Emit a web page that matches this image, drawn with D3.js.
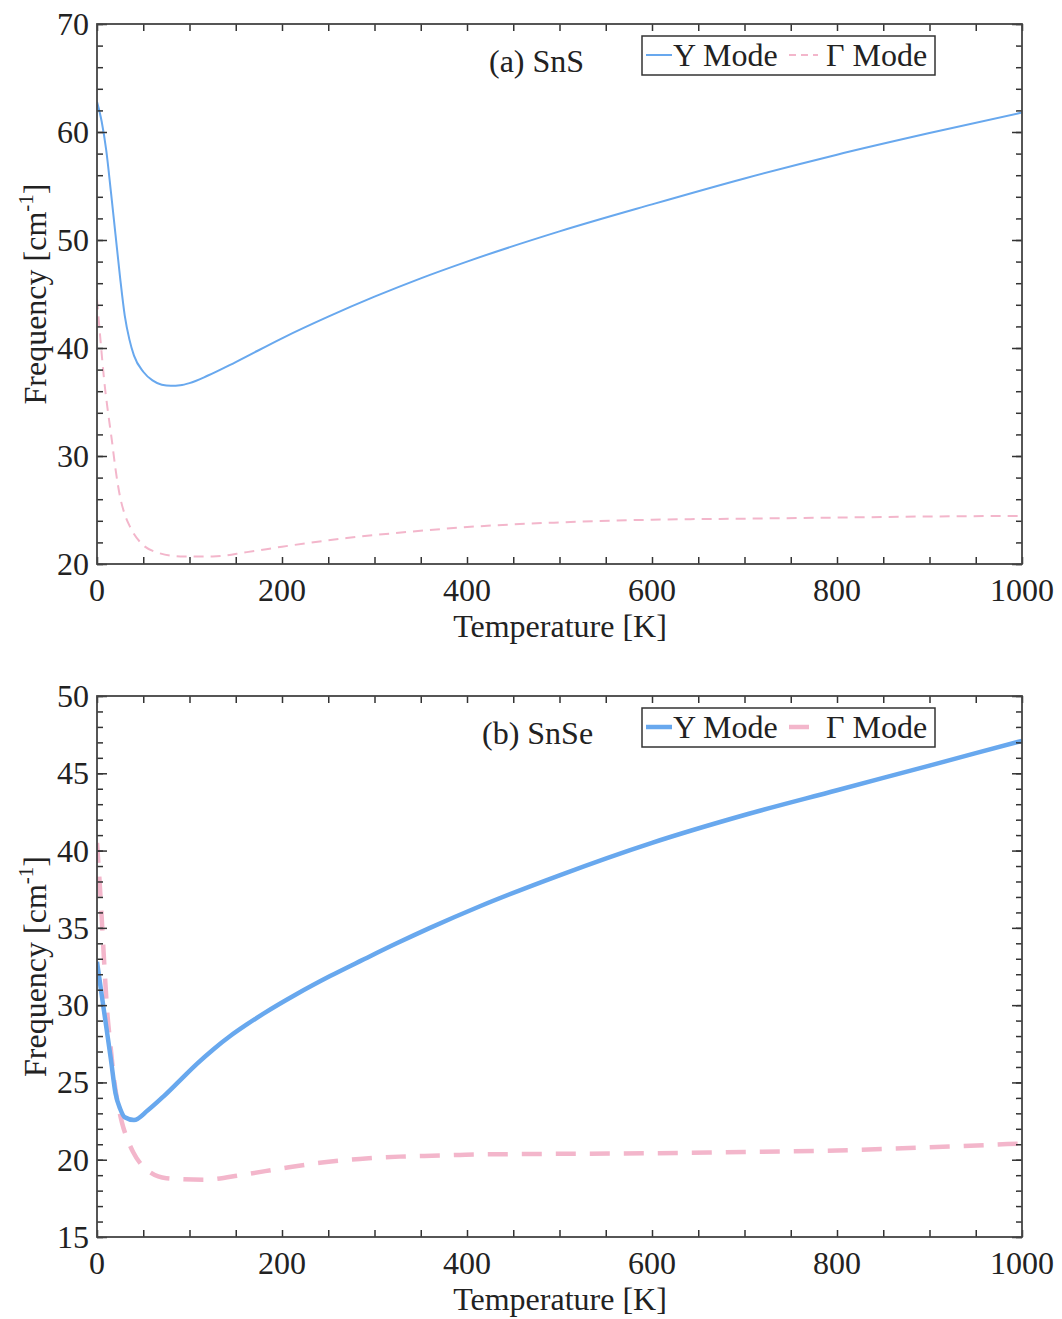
<!DOCTYPE html>
<html>
<head>
<meta charset="utf-8">
<script src="https://cdn.jsdelivr.net/npm/d3@7"></script>
<style>
  body { margin: 0; background: #fff; }
  text { font-family: "Liberation Serif", "Times New Roman", serif; fill: #222; }
</style>
</head>
<body>
<div id="chart"></div>
<script>
// panel (a) SnS
const tempA_Y = [0, 5, 10, 15, 20, 25, 30, 35, 40, 50, 60, 70, 80, 90, 100, 120, 150, 200, 250, 300, 350, 400, 500, 600, 700, 800, 900, 1000];
const freqA_Y = [62.8, 61, 58.3, 54.5, 50.5, 46.5, 43.0, 40.8, 39.3, 37.8, 37.0, 36.6, 36.5, 36.55, 36.75, 37.45, 38.7, 40.9, 42.9, 44.75, 46.45, 48.0, 50.8, 53.3, 55.7, 57.9, 59.9, 61.8];
const tempA_G = [0, 4, 8, 12, 16, 20, 25, 30, 36, 48, 64, 90, 125, 162, 200, 270, 340, 414, 500, 600, 700, 800, 900, 1000];
const freqA_G = [44.5, 40.5, 36.8, 34, 31.5, 28.8, 26.2, 24.6, 23.4, 21.9, 21.1, 20.7, 20.7, 21.1, 21.6, 22.4, 23.0, 23.5, 23.85, 24.1, 24.2, 24.3, 24.4, 24.45];

// panel (b) SnSe
const tempB_Y = [0, 5, 10, 15, 20, 25, 30, 40, 55, 72, 90, 108, 126, 144, 162, 180, 216, 252, 288, 324, 360, 414, 500, 600, 700, 800, 900, 1000];
const freqB_Y = [32.8, 30.7, 28.6, 26.5, 24.3, 23.3, 22.75, 22.57, 23.2, 24.1, 25.15, 26.2, 27.15, 28.0, 28.75, 29.45, 30.72, 31.88, 32.95, 34.0, 35.0, 36.4, 38.4, 40.5, 42.3, 43.9, 45.5, 47.1];
const tempB_G = [0, 3, 5.4, 8, 11, 14.4, 18, 22, 27, 33, 39, 50, 75, 115, 158, 201, 241, 284, 327, 371, 410, 500, 600, 700, 800, 900, 1000];
const freqB_G = [40.5, 37.8, 35.3, 32.5, 29.6, 27.5, 25.4, 23.8, 22.4, 21.3, 20.5, 19.55, 18.8, 18.7, 19.03, 19.45, 19.8, 20.05, 20.2, 20.27, 20.34, 20.38, 20.42, 20.5, 20.6, 20.8, 21.05];

const xTicks = [0, 200, 400, 600, 800, 1000];
const yTicksA = [20, 30, 40, 50, 60, 70];
const yTicksB = [15, 20, 25, 30, 35, 40, 45, 50];

const W = 1062, H = 1319;
const blue = "#68a8ee", pink = "#f3b6cb";

let svg = d3.select("#chart").append("svg")
    .attr("width", W).attr("height", H);
svg.append("rect").attr("width", W).attr("height", H).attr("fill", "#fff");

function panel(opts) {
    let x = d3.scaleLinear().domain([0, 1000]).range([97, 1022]);
    let y = d3.scaleLinear().domain(opts.yDomain).range([opts.bottom, opts.top]);
    let g = svg.append("g");

    let line = d3.line()
        .x(d => x(d[0])).y(d => y(d[1]))
        .curve(d3.curveMonotoneX);

    // clip so lines stay in the box
    let clipId = "clip" + opts.tag;
    svg.append("clipPath").attr("id", clipId)
        .append("rect").attr("x", 97).attr("y", opts.top)
        .attr("width", 925).attr("height", opts.bottom - opts.top);

    g.append("path")
        .datum(d3.zip(opts.gT, opts.gF))
        .attr("clip-path", `url(#${clipId})`)
        .attr("fill", "none").attr("stroke", pink)
        .attr("stroke-width", opts.lw)
        .attr("stroke-dasharray", opts.dash)
        .attr("d", line);

    g.append("path")
        .datum(d3.zip(opts.yT, opts.yF))
        .attr("clip-path", `url(#${clipId})`)
        .attr("fill", "none").attr("stroke", blue)
        .attr("stroke-width", opts.lw)
        .attr("d", line);

    // axes: ticks inside on all four sides
    let minorX = d3.range(0, 1001, 50);
    let minorY = d3.range(opts.yDomain[0], opts.yDomain[1] + 0.001, opts.yMinor);

    g.append("g").attr("transform", `translate(0,${opts.bottom})`)
        .call(d3.axisBottom(x).tickValues(minorX).tickSize(-7).tickFormat(""));
    g.append("g").attr("transform", `translate(0,${opts.top})`)
        .call(d3.axisTop(x).tickValues(minorX).tickSize(-7).tickFormat(""));
    g.append("g").attr("transform", `translate(97,0)`)
        .call(d3.axisLeft(y).tickValues(minorY).tickSize(-6).tickFormat(""));
    g.append("g").attr("transform", `translate(1022,0)`)
        .call(d3.axisRight(y).tickValues(minorY).tickSize(-6).tickFormat(""));
    g.append("g").attr("transform", `translate(97,0)`)
        .call(d3.axisLeft(y).tickValues(opts.yTicks).tickSize(-10).tickFormat(""));
    g.append("g").attr("transform", `translate(1022,0)`)
        .call(d3.axisRight(y).tickValues(opts.yTicks).tickSize(-10).tickFormat(""));

    g.selectAll(".domain").remove();
    g.selectAll(".tick line").attr("stroke", "#333").attr("stroke-width", 1.5);

    g.append("rect")
        .attr("x", 97).attr("y", opts.top)
        .attr("width", 925).attr("height", opts.bottom - opts.top)
        .attr("fill", "none").attr("stroke", "#444").attr("stroke-width", 1.8);

    // tick labels
    g.selectAll(".xl").data(xTicks).enter().append("text")
        .attr("x", d => x(d)).attr("y", opts.bottom + 37)
        .attr("text-anchor", "middle").style("font-size", "32px")
        .text(d => d);
    g.selectAll(".yl").data(opts.yTicks).enter().append("text")
        .attr("x", 89).attr("y", d => y(d) + 11)
        .attr("text-anchor", "end").style("font-size", "32px")
        .text(d => d);

    g.append("text")
        .attr("x", 560).attr("y", opts.bottom + 73)
        .attr("text-anchor", "middle").style("font-size", "32px")
        .text("Temperature [K]");

    let yl = g.append("text")
        .attr("transform", `translate(46,${(opts.top + opts.bottom) / 2}) rotate(-90)`)
        .attr("text-anchor", "middle").style("font-size", "32px");
    yl.append("tspan").text("Frequency [cm");
    yl.append("tspan").attr("dy", -13).style("font-size", "21px").text("-1");
    yl.append("tspan").attr("dy", 13).text("]");

    // panel title
    g.append("text")
        .attr("x", opts.titleX).attr("y", opts.top + 48)
        .style("font-size", "32px").text(opts.title);

    // legend
    let ly = opts.top + 31;
    g.append("rect")
        .attr("x", 642).attr("y", opts.top + 12)
        .attr("width", 293).attr("height", 39)
        .attr("fill", "#fff").attr("stroke", "#333").attr("stroke-width", 1.5);
    g.append("line").attr("x1", 646).attr("x2", 672).attr("y1", ly).attr("y2", ly)
        .attr("stroke", blue).attr("stroke-width", opts.lw);
    g.append("text").attr("x", 673).attr("y", ly + 11)
        .style("font-size", "32px").text("Y Mode");
    g.append("line").attr("x1", 789).attr("x2", 818).attr("y1", ly).attr("y2", ly)
        .attr("stroke", pink).attr("stroke-width", opts.lw)
        .attr("stroke-dasharray", opts.legDash);
    g.append("text").attr("x", 826).attr("y", ly + 11)
        .style("font-size", "32px").text("Γ Mode");
}

panel({
    tag: "a", top: 24, bottom: 564, yDomain: [20, 70], yTicks: yTicksA, yMinor: 2,
    yT: tempA_Y, yF: freqA_Y, gT: tempA_G, gF: freqA_G,
    lw: 2, dash: "10,7", legDash: "7,5",
    title: "(a) SnS", titleX: 489
});

panel({
    tag: "b", top: 696, bottom: 1237, yDomain: [15, 50], yTicks: yTicksB, yMinor: 1,
    yT: tempB_Y, yF: freqB_Y, gT: tempB_G, gF: freqB_G,
    lw: 4.5, dash: "20,14", legDash: "20,14",
    title: "(b) SnSe", titleX: 482
});
</script>
</body>
</html>
